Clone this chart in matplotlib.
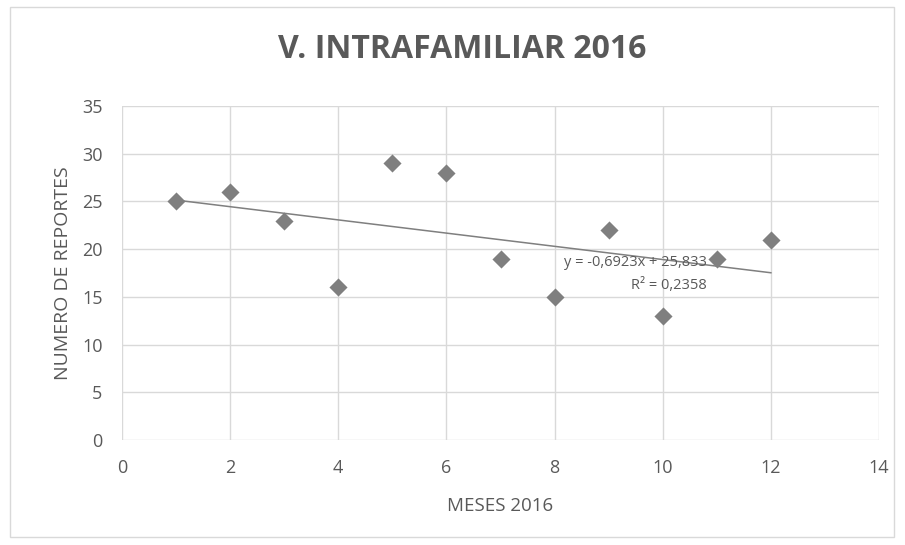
import matplotlib

matplotlib.use("Agg")
import matplotlib.pyplot as plt
import numpy as np
from matplotlib.patches import Rectangle

TITLE = "V. INTRAFAMILIAR 2016"
X_LABEL = "MESES 2016"
Y_LABEL = "NUMERO DE REPORTES"

months = [1, 2, 3, 4, 5, 6, 7, 8, 9, 10, 11, 12]
reports = [25, 26, 23, 16, 29, 28, 19, 15, 22, 13, 19, 21]
x_ticks = [0, 2, 4, 6, 8, 10, 12, 14]
y_ticks = [0, 5, 10, 15, 20, 25, 30, 35]
eq_label = "y = -0,6923x + 25,833"
r2_label = "R² = 0,2358"

TEXT = "#595959"
MARK = "#7f7f7f"
GRID = "#d9d9d9"

plt.rcParams["font.family"] = ["Open Sans", "DejaVu Sans"]

fig = plt.figure(figsize=(9.05, 5.45), dpi=100)
fig.patches.append(Rectangle((10 / 905, 8 / 545), 884 / 905, 530 / 545,
                             transform=fig.transFigure, fill=False,
                             edgecolor=GRID, linewidth=1))
ax = fig.add_axes([122 / 905, 1 - 440 / 545, 757 / 905, 334 / 545])

ax.set_xlim(0, 14)
ax.set_ylim(0, 35)
ax.set_xticks(x_ticks)
ax.set_yticks(y_ticks)
ax.grid(True, color=GRID, linewidth=1)
ax.set_axisbelow(True)
for s in ax.spines.values():
    s.set_visible(False)
ax.tick_params(axis="y", length=0, labelsize=13, labelcolor=TEXT, pad=14)
ax.tick_params(axis="x", length=0, labelsize=13, labelcolor=TEXT, pad=14)

# data + linear trend (Excel-style)
x = np.array(months, dtype=float)
y = np.array(reports, dtype=float)
slope, intercept = np.polyfit(x, y, 1)
ax.plot([x.min(), x.max()], [slope * x.min() + intercept, slope * x.max() + intercept],
        color=MARK, linewidth=1.1, zorder=2)
ax.scatter(x, y, marker="D", s=85, color=MARK, zorder=3, linewidths=0)

ax.text(10.82, 18.65, eq_label, ha="right", va="center", fontsize=10.5,
        color=TEXT, zorder=4)
ax.text(10.82, 16.15, r2_label, ha="right", va="center", fontsize=10.5,
        color=TEXT, zorder=4)

ax.set_xlabel(X_LABEL, fontsize=13.5, color=TEXT, labelpad=14)
ax.set_ylabel(Y_LABEL, fontsize=14, color=TEXT, labelpad=7)
fig.text(462 / 905, 1 - 50 / 545, TITLE, ha="center", va="center",
         fontsize=23, fontweight="bold", color=TEXT)

fig.savefig("out.png", dpi=100)
